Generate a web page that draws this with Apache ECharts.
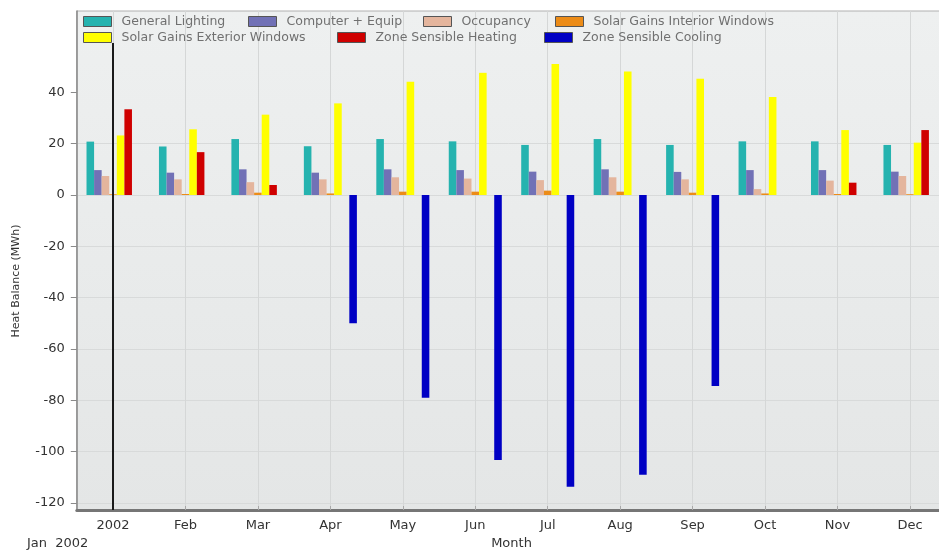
<!DOCTYPE html>
<html>
<head>
<meta charset="utf-8">
<title>Heat Balance</title>
<script src="https://cdn.jsdelivr.net/npm/echarts@6/dist/echarts.min.js"></script>
<style>
html, body { margin: 0; padding: 0; background: #fff; }
#chart { width: 939px; height: 551px; }
</style>
</head>
<body>
<div id="chart"></div>
<script>
// month labels on the x axis (first one shows the year)
const months = ['2002', 'Feb', 'Mar', 'Apr', 'May', 'Jun', 'Jul', 'Aug', 'Sep', 'Oct', 'Nov', 'Dec'];
const yTicks = [-120, -100, -80, -60, -40, -20, 0, 20, 40];

// heat balance per month, MWh
const generalLighting = [20.8, 18.9, 21.8, 19.0, 21.8, 20.9, 19.5, 21.8, 19.5, 20.9, 20.9, 19.5];
const computerEquip = [9.7, 8.7, 10.0, 8.7, 10.0, 9.7, 9.1, 10.0, 9.0, 9.7, 9.7, 9.1];
const occupancy = [7.4, 6.1, 5.0, 6.1, 6.9, 6.4, 5.8, 6.9, 6.1, 2.3, 5.6, 7.4];
const solarInterior = [0.3, 0.4, 0.9, 0.6, 1.3, 1.3, 1.7, 1.3, 0.9, 0.6, 0.4, 0.3];
const solarExterior = [23.2, 25.6, 31.3, 35.7, 44.1, 47.6, 51.0, 48.1, 45.3, 38.2, 25.3, 20.4];
const zoneHeating = [33.4, 16.7, 3.9, 0, 0, 0, 0, 0, 0, 0, 4.8, 25.3];
const zoneCooling = [0, 0, 0, -50.0, -79.0, -103.2, -113.7, -109.0, -74.4, 0, 0, 0];

const markerMonth = '2002';

const FONT = 'DejaVu Sans';

const chart = echarts.init(document.getElementById('chart'));

function barSeries(name, data, color) {
    return {
        name: name,
        type: 'bar',
        xAxisIndex: 1,
        yAxisIndex: 1,
        data: data,
        barGap: '0%',
        barCategoryGap: '26.8%',
        itemStyle: { color: color }
    };
}

function legendAt(name, left, top) {
    return {
        data: [name],
        left: left,
        top: top,
        padding: 0,
        itemWidth: 28,
        itemHeight: 10,
        icon: 'rect',
        selectedMode: false,
        itemStyle: { borderColor: '#555', borderWidth: 1 },
        textStyle: { color: '#707070', fontSize: 12.5, fontFamily: FONT, padding: [0, 0, 0, 5] }
    };
}

const colors = {
    lighting: '#25b3af',
    equip: '#7171b6',
    occupancy: '#e4b59d',
    interior: '#ec8c18',
    exterior: '#ffff00',
    heating: '#cf0000',
    cooling: '#0000c4'
};

const option = {
    animation: false,
    backgroundColor: '#fff',
    grid: [
        {
            left: 76.8, right: -7.2, top: 11, bottom: 41,
            outerBoundsMode: 'none',
            show: true,
            backgroundColor: new echarts.graphic.LinearGradient(0, 0, 0, 1, [
                { offset: 0, color: '#eef0f0' },
                { offset: 1, color: '#e4e6e6' }
            ]),
            borderColor: '#b0b0b0',
            borderWidth: 1
        },
        { left: 76.8, right: -7.2, top: 41, bottom: 48, outerBoundsMode: 'none' }
    ],
    legend: [
        legendAt('General Lighting', 83, 15),
        legendAt('Computer + Equip', 248, 15),
        legendAt('Occupancy', 423, 15),
        legendAt('Solar Gains Interior Windows', 555, 15),
        legendAt('Solar Gains Exterior Windows', 83, 31),
        legendAt('Zone Sensible Heating', 337, 31),
        legendAt('Zone Sensible Cooling', 544, 31)
    ],
    xAxis: [
        {
            gridIndex: 0,
            type: 'category',
            data: months,
            axisLine: { lineStyle: { color: '#767676', width: 3 } },
            axisTick: { show: true, alignWithLabel: true, inside: true, length: 4, lineStyle: { color: '#a8a8a8' } },
            axisLabel: { margin: 9, color: '#333', fontSize: 13, fontFamily: FONT },
            splitLine: { show: true, alignWithLabel: true, lineStyle: { color: '#d5d7d7' } },
            name: 'Month',
            nameLocation: 'middle',
            nameGap: 27,
            nameTextStyle: { color: '#333', fontSize: 13, fontFamily: FONT }
        },
        { gridIndex: 1, type: 'category', data: months, show: false }
    ],
    yAxis: [
        {
            gridIndex: 0,
            type: 'value',
            min: 0,
            max: 1,
            axisLine: { show: true, lineStyle: { color: '#8a8a8a', width: 1.5 } },
            axisTick: { show: false },
            axisLabel: { show: false },
            splitLine: { show: false }
        },
        {
            gridIndex: 1,
            type: 'value',
            min: -120,
            max: 60,
            interval: 20,
            axisLine: { show: false },
            axisTick: { show: true, length: 6, customValues: yTicks, lineStyle: { color: '#8a8a8a' } },
            axisLabel: { margin: 12, color: '#333', fontSize: 13, fontFamily: FONT, customValues: yTicks },
            splitLine: { show: true, showMaxLine: false, lineStyle: { color: '#d8dada' } }
        }
    ],
    graphic: [
        {
            type: 'text',
            left: 27,
            top: 537,
            style: { text: 'Jan  2002', fill: '#333', fontSize: 13, fontFamily: FONT }
        },
        {
            type: 'text',
            x: 16,
            y: 281,
            rotation: Math.PI / 2,
            style: { text: 'Heat Balance (MWh)', fill: '#333', fontSize: 11, fontFamily: FONT, align: 'center', verticalAlign: 'middle' }
        }
    ],
    series: [
        barSeries('General Lighting', generalLighting, colors.lighting),
        barSeries('Computer + Equip', computerEquip, colors.equip),
        barSeries('Occupancy', occupancy, colors.occupancy),
        barSeries('Solar Gains Interior Windows', solarInterior, colors.interior),
        barSeries('Solar Gains Exterior Windows', solarExterior, colors.exterior),
        barSeries('Zone Sensible Heating', zoneHeating, colors.heating),
        barSeries('Zone Sensible Cooling', zoneCooling, colors.cooling),
        {
            // current month marker
            type: 'line',
            xAxisIndex: 0,
            yAxisIndex: 0,
            data: [],
            markLine: {
                silent: true,
                symbol: ['none', 'none'],
                label: { show: false },
                lineStyle: { color: '#1a1a1a', width: 2, type: 'solid' },
                data: [[{ coord: [markerMonth, 0] }, { coord: [markerMonth, 0.936] }]]
            }
        }
    ]
};

chart.setOption(option);
</script>
</body>
</html>
